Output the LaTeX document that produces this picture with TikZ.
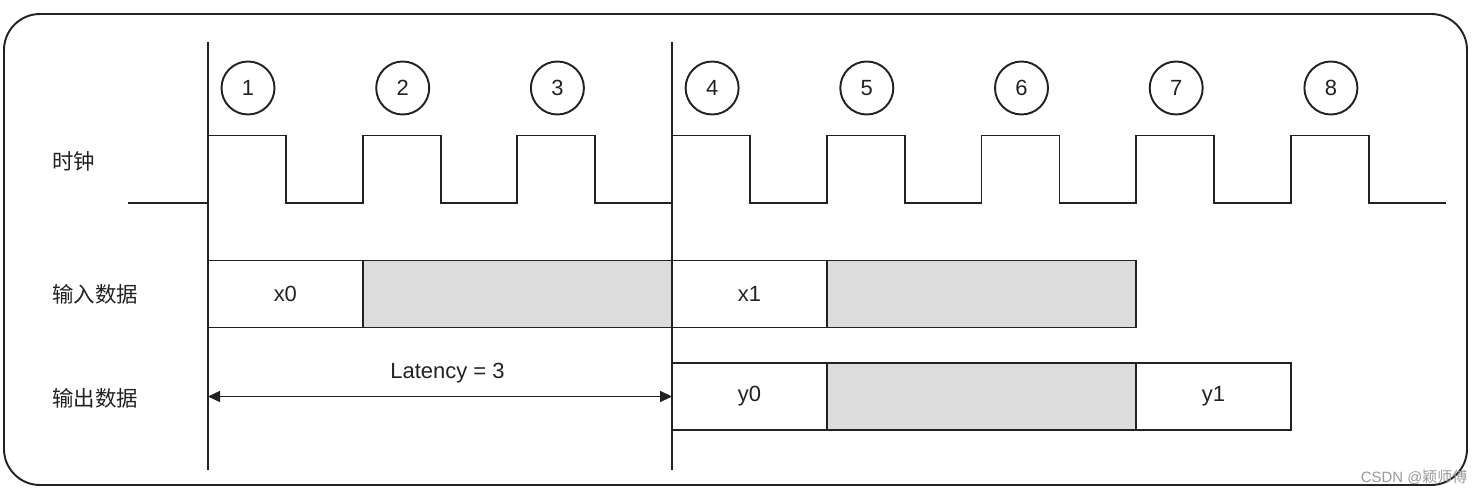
\documentclass[tikz,border=0pt]{standalone}
\usepackage{fontspec}
\setmainfont{Liberation Sans}
\newfontfamily\cjk{Noto Sans CJK SC}
\usetikzlibrary{arrows.meta}
\definecolor{holdgray}{HTML}{DCDCDC}
\definecolor{inkgray}{HTML}{222222}

\begin{document}
\begin{tikzpicture}[
  color=inkgray,
  edge/.style={draw, line width=1.1pt},
  tick/.style={circle, draw, line width=1.1pt, minimum size=1.06cm, inner sep=0pt},
  cell/.style={rectangle, draw, line width=1.1pt, minimum width=3.094cm, minimum height=1.34cm, inner sep=0pt, outer sep=0pt},
  hold/.style={cell, fill=holdgray, minimum width=6.188cm},
  sig/.style={anchor=west, inner sep=0pt, font=\cjk\fontsize{12.2}{14}\selectfont},
  span/.style={draw, line width=0.8pt, {Triangle[length=0.24cm,width=0.22cm]}-{Triangle[length=0.24cm,width=0.22cm]}},
  node distance=3.094cm,
  font=\fontsize{12.5}{15}\selectfont
]
\useasboundingbox (0,0) rectangle (29.6,-9.88);
\draw[edge, rounded corners=0.72cm] (0.08,-0.28) rectangle (29.34,-9.7);

% Clock cycles
\node[tick] (c1) at (4.96,-1.76) {1};
\node[tick, right of=c1] (c2) {2};
\node[tick, right of=c2] (c3) {3};
\node[tick, right of=c3] (c4) {4};
\node[tick, right of=c4] (c5) {5};
\node[tick, right of=c5] (c6) {6};
\node[tick, right of=c6] (c7) {7};
\node[tick, right of=c7] (c8) {8};

% Clock
\draw[edge] (2.56,-4.06) -- (4.16,-4.06)
  foreach \k in {1,...,8} { -- ++(0,1.35) -- ++(1.56,0) -- ++(0,-1.35) -- ++(1.534,0) };

% Input data
\node[cell] (x0) at (5.707,-5.88) {x0};
\node[hold, right of=x0, node distance=4.641cm] (hx0) {};
\node[cell, right of=hx0, node distance=4.641cm] (x1) {x1};
\node[hold, right of=x1, node distance=4.641cm] (hx1) {};

% Output data
\node[cell, below of=x1, node distance=2.05cm] (y0) {y0};
\node[hold, right of=y0, node distance=4.641cm] (hy0) {};
\node[cell, right of=hy0, node distance=4.641cm] (y1) {y1};

% Markers
\coordinate (m0top) at (4.16,-0.84);
\coordinate (m0bot) at (4.16,-9.4);
\coordinate (m1top) at (13.44,-0.84);
\coordinate (m1bot) at (13.44,-9.4);
\draw[edge] (m0top) -- (m0bot);
\draw[edge] (m1top) -- (m1bot);

% Latency
\coordinate (lat0) at (m0top |- y0.west);
\draw[span] (lat0) -- (y0.west);
\node (lat) at (8.95,-7.47) {Latency = 3};

% Labels
\node[sig] (clk) at (1.04,-3.23) {时钟};
\node[sig] (din) at (clk.west |- x0.west) {输入数据};
\node[sig] (dout) at (clk.west |- 0,-7.96) {输出数据};
\node[text=black!40, font=\fontsize{8.5}{10}\selectfont] (mark) at (28.28,-9.54) {CSDN @{\cjk 颖师傅}};
\end{tikzpicture}
\end{document}
